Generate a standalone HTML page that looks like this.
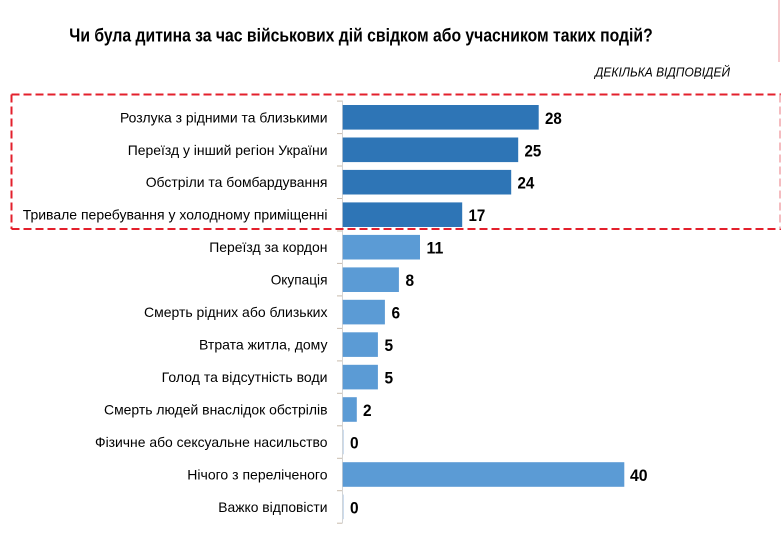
<!DOCTYPE html>
<html>
<head>
<meta charset="utf-8">
<style>
html,body{margin:0;padding:0;background:#fff;}
svg{display:block;}
text{font-family:"Liberation Sans",Arial,sans-serif;fill:#000;}
</style>
</head>
<body>
<svg width="781" height="538" viewBox="0 0 781 538" xmlns="http://www.w3.org/2000/svg">
<rect width="781" height="538" fill="#fff"/>
<!-- top-right pink line -->
<line x1="779" y1="0" x2="779" y2="62" stroke="#f4b8bc" stroke-width="1.5"/>
<!-- title -->
<text x="69.3" y="41.7" font-size="18" font-weight="bold" textLength="583.4" lengthAdjust="spacingAndGlyphs">Чи була дитина за час військових дій свідком або учасником таких подій?</text>
<text x="595" y="76.7" font-size="13" font-style="italic" textLength="135" lengthAdjust="spacingAndGlyphs">ДЕКІЛЬКА ВІДПОВІДЕЙ</text>

<!-- axis -->
<line x1="342.5" y1="100.5" x2="342.5" y2="523.5" stroke="#d4d4d4" stroke-width="1"/>
<g stroke="#c9bcae" stroke-width="1">
<line x1="337" y1="101.1" x2="342" y2="101.1"/>
<line x1="337" y1="133.6" x2="342" y2="133.6"/>
<line x1="337" y1="166.0" x2="342" y2="166.0"/>
<line x1="337" y1="198.5" x2="342" y2="198.5"/>
<line x1="337" y1="231.0" x2="342" y2="231.0"/>
<line x1="337" y1="263.4" x2="342" y2="263.4"/>
<line x1="337" y1="295.9" x2="342" y2="295.9"/>
<line x1="337" y1="328.4" x2="342" y2="328.4"/>
<line x1="337" y1="360.9" x2="342" y2="360.9"/>
<line x1="337" y1="393.3" x2="342" y2="393.3"/>
<line x1="337" y1="425.8" x2="342" y2="425.8"/>
<line x1="337" y1="458.3" x2="342" y2="458.3"/>
<line x1="337" y1="490.7" x2="342" y2="490.7"/>
<line x1="337" y1="523.2" x2="342" y2="523.2"/>
</g>

<!-- bars -->
<g>
<rect x="342.7" y="105.0" width="196.0" height="24.6" fill="#2E75B6"/>
<rect x="342.7" y="137.5" width="175.5" height="24.6" fill="#2E75B6"/>
<rect x="342.7" y="169.9" width="168.5" height="24.6" fill="#2E75B6"/>
<rect x="342.7" y="202.4" width="119.5" height="24.6" fill="#2E75B6"/>
<rect x="342.7" y="234.9" width="77.3" height="24.6" fill="#5B9BD5"/>
<rect x="342.7" y="267.4" width="56.2" height="24.6" fill="#5B9BD5"/>
<rect x="342.7" y="299.8" width="42.2" height="24.6" fill="#5B9BD5"/>
<rect x="342.7" y="332.3" width="35.2" height="24.6" fill="#5B9BD5"/>
<rect x="342.7" y="364.8" width="35.2" height="24.6" fill="#5B9BD5"/>
<rect x="342.7" y="397.2" width="14.1" height="24.6" fill="#5B9BD5"/>
<rect x="342.7" y="429.7" width="1.2" height="24.6" fill="#c8d9ec"/>
<rect x="342.7" y="462.2" width="281.6" height="24.6" fill="#5B9BD5"/>
<rect x="342.7" y="494.6" width="1.2" height="24.6" fill="#c8d9ec"/>
</g>

<!-- labels -->
<g font-size="14">
<text x="120" y="122.3" textLength="207.5" lengthAdjust="spacingAndGlyphs">Розлука з рідними та близькими</text>
<text x="127.7" y="154.8" textLength="199.8" lengthAdjust="spacingAndGlyphs">Переїзд у інший регіон України</text>
<text x="145.7" y="187.2" textLength="181.8" lengthAdjust="spacingAndGlyphs">Обстріли та бомбардування</text>
<text x="22.7" y="219.7" textLength="304.8" lengthAdjust="spacingAndGlyphs">Тривале перебування у холодному приміщенні</text>
<text x="209.3" y="252.2" textLength="118.2" lengthAdjust="spacingAndGlyphs">Переїзд за кордон</text>
<text x="270.7" y="284.7" textLength="56.8" lengthAdjust="spacingAndGlyphs">Окупація</text>
<text x="144" y="317.1" textLength="183.5" lengthAdjust="spacingAndGlyphs">Смерть рідних або близьких</text>
<text x="199" y="349.6" textLength="128.5" lengthAdjust="spacingAndGlyphs">Втрата житла, дому</text>
<text x="161.7" y="382.1" textLength="165.8" lengthAdjust="spacingAndGlyphs">Голод та відсутність води</text>
<text x="104" y="414.5" textLength="223.5" lengthAdjust="spacingAndGlyphs">Смерть людей внаслідок обстрілів</text>
<text x="95" y="447.0" textLength="232.5" lengthAdjust="spacingAndGlyphs">Фізичне або сексуальне насильство</text>
<text x="187.3" y="479.5" textLength="140.2" lengthAdjust="spacingAndGlyphs">Нічого з переліченого</text>
<text x="218.3" y="511.9" textLength="109.2" lengthAdjust="spacingAndGlyphs">Важко відповісти</text>
</g>

<!-- values -->
<g font-size="17" font-weight="bold">
<text x="545" y="123.8" textLength="16.8" lengthAdjust="spacingAndGlyphs">28</text>
<text x="524.5" y="156.3" textLength="16.8" lengthAdjust="spacingAndGlyphs">25</text>
<text x="517.5" y="188.7" textLength="16.8" lengthAdjust="spacingAndGlyphs">24</text>
<text x="468.5" y="221.2" textLength="16.8" lengthAdjust="spacingAndGlyphs">17</text>
<text x="426.5" y="253.7" textLength="16.8" lengthAdjust="spacingAndGlyphs">11</text>
<text x="405.5" y="286.2" textLength="8.6" lengthAdjust="spacingAndGlyphs">8</text>
<text x="391.5" y="318.6" textLength="8.6" lengthAdjust="spacingAndGlyphs">6</text>
<text x="384.5" y="351.1" textLength="8.6" lengthAdjust="spacingAndGlyphs">5</text>
<text x="384.5" y="383.6" textLength="8.6" lengthAdjust="spacingAndGlyphs">5</text>
<text x="363" y="416.0" textLength="8.6" lengthAdjust="spacingAndGlyphs">2</text>
<text x="350" y="448.5" textLength="8.6" lengthAdjust="spacingAndGlyphs">0</text>
<text x="630" y="481.0" textLength="17.6" lengthAdjust="spacingAndGlyphs">40</text>
<text x="350" y="513.4" textLength="8.6" lengthAdjust="spacingAndGlyphs">0</text>
</g>

<!-- dashed highlight box -->
<g fill="none" stroke-width="2" stroke-dasharray="8,4">
<line x1="11.5" y1="94.5" x2="781" y2="94.5" stroke="#e3202c"/>
<line x1="11.5" y1="229" x2="781" y2="229" stroke="#e3202c"/>
<line x1="11.5" y1="94.5" x2="11.5" y2="229" stroke="#e3202c"/>
<line x1="780" y1="94.5" x2="780" y2="229" stroke="#f2a6ab" stroke-width="1.5"/>
</g>
</svg>
</body>
</html>
